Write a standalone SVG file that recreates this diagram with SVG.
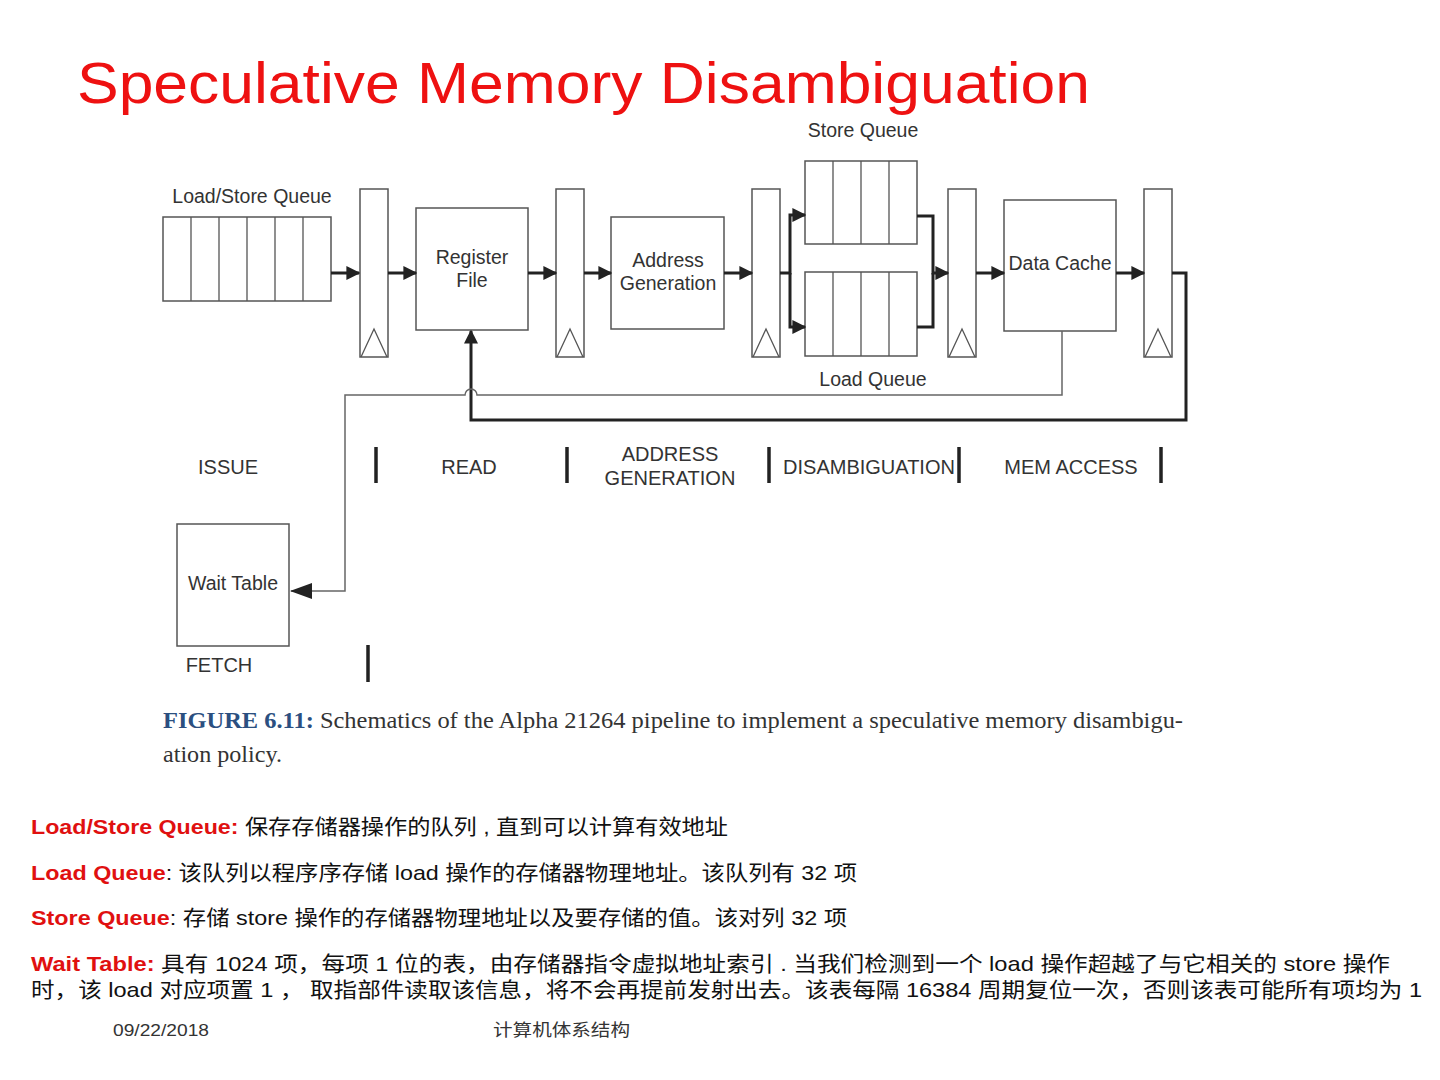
<svg xmlns="http://www.w3.org/2000/svg" width="1440" height="1080" viewBox="0 0 1440 1080">
<defs>
<style>
.box{fill:#fff;stroke:#555;stroke-width:1.5}
.cell{fill:none;stroke:#555;stroke-width:1.3}
.lbl{font-family:"Liberation Sans",Arial,sans-serif;font-size:19.5px;fill:#333;text-anchor:middle}
.thick{fill:none;stroke:#222;stroke-width:3}
.thin{fill:none;stroke:#666;stroke-width:1.5}
.bar{stroke:#222;stroke-width:3.5}
.body{font-family:"Liberation Sans","Noto Sans CJK SC",sans-serif;font-size:21px;fill:#111}
.key{fill:#e01010;font-weight:bold}
</style>
<marker id="ahs" viewBox="0 0 10 10" refX="9" refY="5" markerWidth="14" markerHeight="14" orient="auto" markerUnits="userSpaceOnUse">
<path d="M0,0 L10,5 L0,10 Z" fill="#222"/>
</marker>
<g id="latch-shape">
<rect class="box" x="0" y="0" width="28" height="168"/>
<path class="cell" d="M1,168 L14,140 L27,168"/>
</g>
</defs>
<rect width="1440" height="1080" fill="#fff"/>
<text x="77" y="103" font-family="Liberation Sans,Arial,sans-serif" font-size="58" fill="#ee1111" textLength="1013" lengthAdjust="spacingAndGlyphs">Speculative Memory Disambiguation</text>

<g id="lsq">
<rect class="box" x="163" y="217" width="168" height="84"/>
<path class="cell" d="M191,217V301M219,217V301M247,217V301M275,217V301M303,217V301"/>
<text class="lbl" x="252" y="203">Load/Store Queue</text>
</g>
<g id="latch1"><use href="#latch-shape" x="360" y="189"/></g>
<g id="latch2"><use href="#latch-shape" x="556" y="189"/></g>
<g id="latch3"><use href="#latch-shape" x="752" y="189"/></g>
<g id="latch4"><use href="#latch-shape" x="948" y="189"/></g>
<g id="latch5"><use href="#latch-shape" x="1144" y="189"/></g>
<g id="regfile">
<rect class="box" x="416" y="208" width="112" height="122"/>
<text class="lbl" x="472" y="264">Register</text>
<text class="lbl" x="472" y="287">File</text>
</g>
<g id="addrgen">
<rect class="box" x="611" y="217" width="113" height="112"/>
<text class="lbl" x="668" y="267">Address</text>
<text class="lbl" x="668" y="290">Generation</text>
</g>
<g id="storeq">
<rect class="box" x="805" y="161" width="112" height="83"/>
<path class="cell" d="M833,161V244M861,161V244M889,161V244"/>
<text class="lbl" x="863" y="137">Store Queue</text>
</g>
<g id="loadq">
<rect class="box" x="805" y="272" width="112" height="84"/>
<path class="cell" d="M833,272V356M861,272V356M889,272V356"/>
<text class="lbl" x="873" y="386">Load Queue</text>
</g>
<g id="dcache">
<rect class="box" x="1004" y="200" width="112" height="131"/>
<text class="lbl" x="1060" y="270">Data Cache</text>
</g>
<g id="waittable">
<rect class="box" x="177" y="524" width="112" height="122"/>
<text class="lbl" x="233" y="590">Wait Table</text>
</g>

<g id="connectors">
<path class="thick" d="M331,273H359" marker-end="url(#ahs)"/>
<path class="thick" d="M388,273H416" marker-end="url(#ahs)"/>
<path class="thick" d="M528,273H556" marker-end="url(#ahs)"/>
<path class="thick" d="M584,273H611" marker-end="url(#ahs)"/>
<path class="thick" d="M724,273H752" marker-end="url(#ahs)"/>
<path class="thick" d="M780,273H790V215H805" marker-end="url(#ahs)"/>
<path class="thick" d="M790,273V327H805" marker-end="url(#ahs)"/>
<path class="thick" d="M917,216H933V273H948" marker-end="url(#ahs)"/>
<path class="thick" d="M917,327H933V273"/>
<path class="thick" d="M976,273H1004" marker-end="url(#ahs)"/>
<path class="thick" d="M1116,273H1144" marker-end="url(#ahs)"/>
<path class="thick" d="M1172,273H1186V420H471V331" marker-end="url(#ahs)"/>
<path class="thin" d="M1062,331V395H477A6,6 0 0 0 465,395H345V591H291"/>
<path d="M290,591L312,583V599Z" fill="#222"/>
</g>

<g id="stages" font-family="Liberation Sans,Arial,sans-serif" font-size="20" fill="#333" text-anchor="middle">
<text x="228" y="474">ISSUE</text>
<text x="469" y="474">READ</text>
<text x="670" y="461">ADDRESS</text>
<text x="670" y="485">GENERATION</text>
<text x="869" y="474">DISAMBIGUATION</text>
<text x="1071" y="474">MEM ACCESS</text>
<text x="219" y="672">FETCH</text>
<line class="bar" x1="376" y1="447" x2="376" y2="483"/>
<line class="bar" x1="567" y1="447" x2="567" y2="483"/>
<line class="bar" x1="769" y1="447" x2="769" y2="483"/>
<line class="bar" x1="959" y1="447" x2="959" y2="483"/>
<line class="bar" x1="1161" y1="447" x2="1161" y2="483"/>
<line class="bar" x1="368" y1="645" x2="368" y2="682"/>
</g>

<g id="caption" font-family="Liberation Serif,'Times New Roman',serif" font-size="23" fill="#333">
<text x="163" y="728" textLength="1020" lengthAdjust="spacingAndGlyphs"><tspan fill="#2b4f80" font-weight="bold">FIGURE 6.11:</tspan> Schematics of the Alpha 21264 pipeline to implement a speculative memory disambigu-</text>
<text x="163" y="762" textLength="119" lengthAdjust="spacingAndGlyphs">ation policy.</text>
</g>

<g id="notes">
<text class="body" x="31" y="834" textLength="697" lengthAdjust="spacingAndGlyphs"><tspan class="key">Load/Store Queue:</tspan>  保存存储器操作的队列 , 直到可以计算有效地址</text>
<text class="body" x="31" y="880" textLength="826" lengthAdjust="spacingAndGlyphs"><tspan class="key">Load Queue</tspan>:  该队列以程序序存储 load 操作的存储器物理地址。该队列有 32 项</text>
<text class="body" x="31" y="925" textLength="816" lengthAdjust="spacingAndGlyphs"><tspan class="key">Store Queue</tspan>:  存储 store 操作的存储器物理地址以及要存储的值。该对列 32 项</text>
<text class="body" x="31" y="971" textLength="1359" lengthAdjust="spacingAndGlyphs"><tspan class="key">Wait Table:</tspan>  具有 1024  项，每项 1 位的表，由存储器指令虚拟地址索引 . 当我们检测到一个 load 操作超越了与它相关的 store 操作</text>
<text class="body" x="31" y="997" textLength="1391" lengthAdjust="spacingAndGlyphs">时，该 load 对应项置 1 ， 取指部件读取该信息，将不会再提前发射出去。该表每隔 16384 周期复位一次，否则该表可能所有项均为 1</text>
</g>

<g id="footer" font-family="Liberation Sans,'Noto Sans CJK SC',sans-serif" font-size="17" fill="#333">
<text x="113" y="1036" textLength="96" lengthAdjust="spacingAndGlyphs">09/22/2018</text>
<text x="493" y="1036" textLength="137" lengthAdjust="spacingAndGlyphs">计算机体系结构</text>
</g>
</svg>
